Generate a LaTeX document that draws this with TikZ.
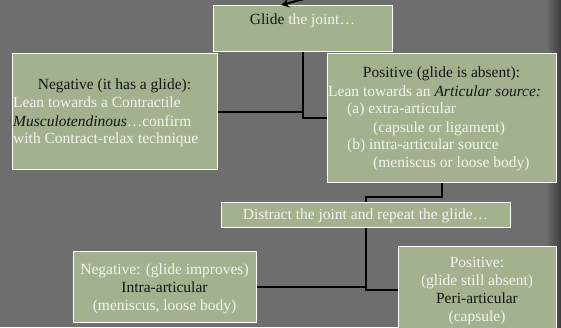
\documentclass[tikz,border=0pt]{standalone}
\usepackage{fontspec}
\setmainfont{Liberation Serif}
\usetikzlibrary{arrows.meta}
\definecolor{bg}{HTML}{6E6E6E}
\definecolor{bgdark}{HTML}{3C3C3C}
\definecolor{sage}{HTML}{A3B18F}
\definecolor{wtxt}{HTML}{F4F4EE}
\definecolor{btxt}{HTML}{141414}
\begin{document}
\begin{tikzpicture}[x=1pt,y=-1pt,
  box/.style={draw=white,line width=1pt,fill=sage,inner sep=0pt,anchor=north west},
  conn/.style={draw=black,line width=2pt},
  txt/.style={inner sep=0pt,anchor=base,text=wtxt,font=\fontsize{15.5}{18}\selectfont},
  ltxt/.style={txt,anchor=base west},
  blk/.style={text=btxt}]
\clip (0,0) rectangle (561,327);
\fill[bg] (0,0) rectangle (561,327);
\shade[left color=bg, right color=bgdark] (546,0) rectangle (561,327);
% boxes
\node[box,minimum width=179pt,minimum height=46pt] (glide) at (213,5) {};
\node[box,minimum width=205pt,minimum height=116pt] (neg) at (12,53) {};
\node[box,minimum width=229pt,minimum height=129pt] (pos) at (327,53) {};
\node[box,minimum width=289pt,minimum height=25pt] (dist) at (221,202) {};
\node[box,minimum width=183pt,minimum height=71pt] (bl) at (73,251) {};
\node[box,minimum width=158pt,minimum height=86pt] (br) at (398,246) {};
% connectors
\coordinate (astart) at (304,-1);
\coordinate (atip) at (281,5);
\draw[conn,-{Stealth[length=8pt,width=9pt]}] (astart) -- (atip);
\draw[conn] (glide.south) |- (neg.east);
\draw[conn] (glide.south) |- (pos.west);
\draw[conn] (pos.south) -- ++(0,14) -| (dist.north);
\draw[conn] (dist.south) |- (bl.east);
\draw[conn] (dist.south) |- (br.west);
% texts
\node[txt] (tglide) at (302.5,24) {\textcolor{btxt}{Glide} the joint…};
\node[txt,blk] (tneg1) at (114.5,89) {Negative (it has a glide):};
\node[ltxt] (tneg2) at (13,107) {Lean towards a Contractile};
\node[ltxt] (tneg3) at (13,126) {\textcolor{btxt}{\itshape Musculotendinous}…confirm};
\node[ltxt] (tneg4) at (13,143) {with Contract-relax technique};
\node[txt,blk] (tpos1) at (441.5,77) {Positive (glide is absent):};
\node[ltxt] (tpos2) at (328,96) {Lean towards an \textcolor{btxt}{\itshape Articular source:}};
\node[ltxt] (tpos3) at (347,113) {(a) extra-articular};
\node[ltxt] (tpos4) at (373,132) {(capsule or ligament)};
\node[ltxt] (tpos5) at (347,149) {(b) intra-articular source};
\node[ltxt] (tpos6) at (373,167) {(meniscus or loose body)};
\node[txt] (tdist) at (365.5,219) {Distract the joint and repeat the glide…};
\node[txt] (tbl1) at (164.5,274) {Negative: (glide improves)};
\node[txt,blk] (tbl2) at (164.5,292) {Intra-articular};
\node[txt] (tbl3) at (164.5,310) {(meniscus, loose body)};
\node[txt] (tbr1) at (477,267) {Positive:};
\node[txt] (tbr2) at (477,285) {(glide still absent)};
\node[txt,blk] (tbr3) at (477,303) {Peri-articular};
\node[txt] (tbr4) at (477,321) {(capsule)};
\end{tikzpicture}
\end{document}
